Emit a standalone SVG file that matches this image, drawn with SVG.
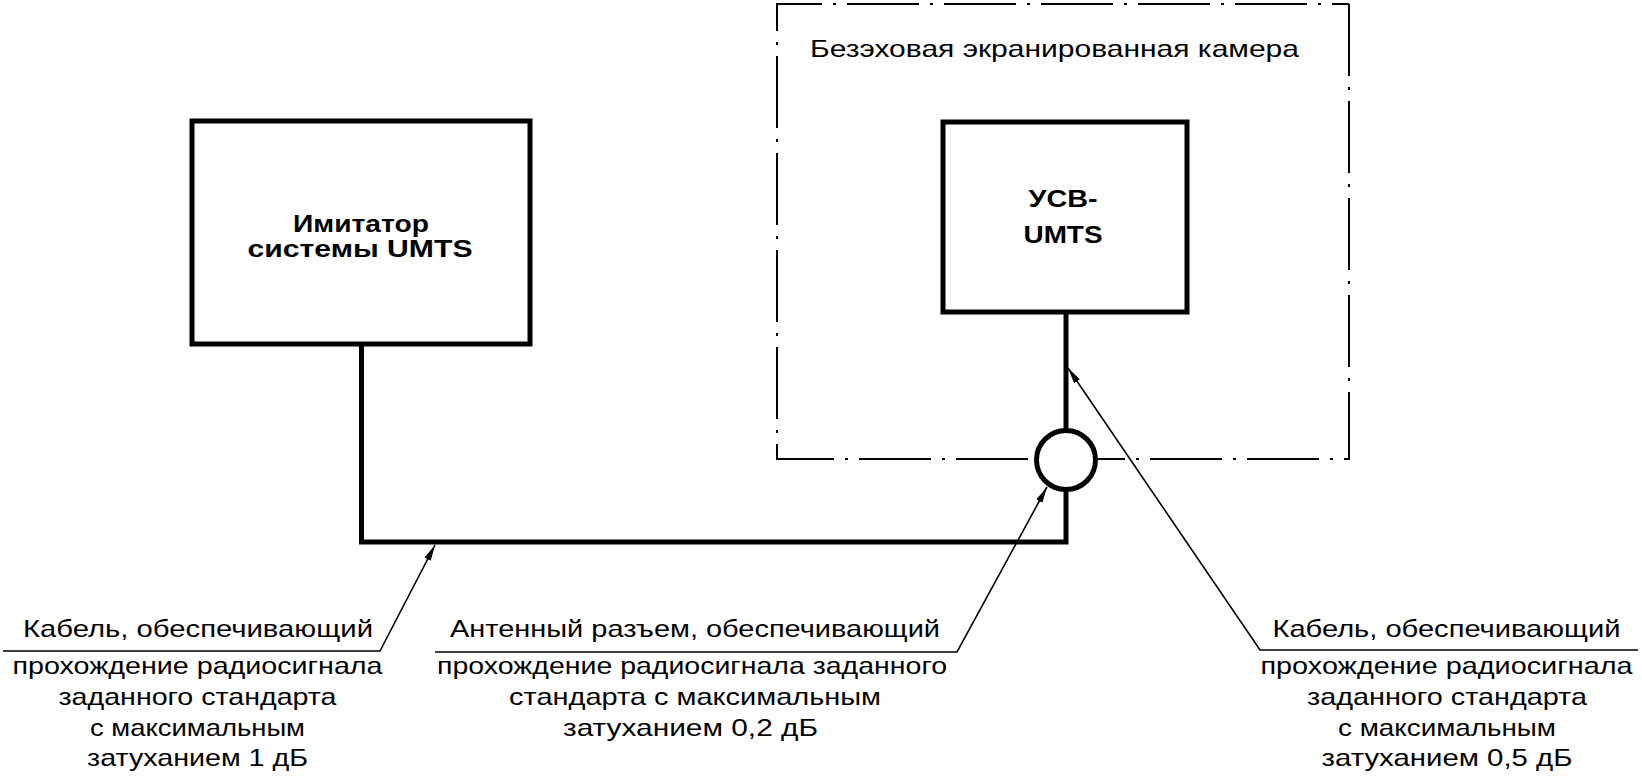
<svg xmlns="http://www.w3.org/2000/svg" width="1642" height="777" viewBox="0 0 1642 777">
<style>
.t{font-family:"Liberation Sans",Arial,sans-serif;font-size:24px;fill:#000;text-anchor:middle}
.b{font-weight:bold}
.thick{fill:none;stroke:#000;stroke-width:5}
.thin{fill:none;stroke:#000;stroke-width:1.6}
.cam{fill:none;stroke:#000;stroke-width:2;stroke-dasharray:72 11 3 11}
</style>
<defs>
<marker id="arr" viewBox="0 0 16 7" refX="16" refY="3.5" markerWidth="16" markerHeight="7" markerUnits="userSpaceOnUse" orient="auto">
<path d="M0,0 L16,3.5 L0,7 Z" fill="#000"/>
</marker>
</defs>
<rect width="1642" height="777" fill="#fff"/>

<g id="camera">
<path class="cam" d="M1349,4 V459 H777 V4 H1349"/>
<text class="t" x="1054.5" y="57" textLength="489" lengthAdjust="spacingAndGlyphs">Безэховая экранированная камера</text>
</g>

<g id="connectors">
<path class="thick" d="M361.5,344 V542 H1066 V490"/>
<path class="thick" d="M1066,312 V430"/>
</g>

<g id="simulator">
<rect class="thick" x="192" y="121" width="338" height="223"/>
<text class="t b" x="361" y="232" textLength="136" lengthAdjust="spacingAndGlyphs">Имитатор</text>
<text class="t b" x="360" y="257" textLength="225" lengthAdjust="spacingAndGlyphs">системы UMTS</text>
</g>

<g id="ue">
<rect class="thick" x="943" y="122" width="244" height="190"/>
<text class="t b" x="1063" y="207" textLength="69" lengthAdjust="spacingAndGlyphs">УСВ-</text>
<text class="t b" x="1063" y="243" textLength="79" lengthAdjust="spacingAndGlyphs">UMTS</text>
</g>

<g id="antenna-connector">
<circle cx="1066" cy="460" r="29.5" fill="#fff" stroke="#000" stroke-width="5"/>
</g>

<g id="label-cable-1">
<path class="thin" d="M3,651 H380 L435,545" marker-end="url(#arr)"/>
<text class="t" x="198" y="637" textLength="350" lengthAdjust="spacingAndGlyphs">Кабель, обеспечивающий</text>
<text class="t" x="197.5" y="674" textLength="370" lengthAdjust="spacingAndGlyphs">прохождение радиосигнала</text>
<text class="t" x="197.5" y="705" textLength="278" lengthAdjust="spacingAndGlyphs">заданного стандарта</text>
<text class="t" x="197.5" y="735.5" textLength="215" lengthAdjust="spacingAndGlyphs">с максимальным</text>
<text class="t" x="197.5" y="766" textLength="221" lengthAdjust="spacingAndGlyphs">затуханием 1 дБ</text>
</g>

<g id="label-connector">
<path class="thin" d="M435,652 H957 L1047,487" marker-end="url(#arr)"/>
<text class="t" x="695" y="637" textLength="490" lengthAdjust="spacingAndGlyphs">Антенный разъем, обеспечивающий</text>
<text class="t" x="692" y="674" textLength="510" lengthAdjust="spacingAndGlyphs">прохождение радиосигнала заданного</text>
<text class="t" x="695" y="705" textLength="372" lengthAdjust="spacingAndGlyphs">стандарта с максимальным</text>
<text class="t" x="690.5" y="736" textLength="255" lengthAdjust="spacingAndGlyphs">затуханием 0,2 дБ</text>
</g>

<g id="label-cable-2">
<path class="thin" d="M1638,650 H1260 L1068,368" marker-end="url(#arr)"/>
<text class="t" x="1446.5" y="637" textLength="348" lengthAdjust="spacingAndGlyphs">Кабель, обеспечивающий</text>
<text class="t" x="1446.5" y="674" textLength="372" lengthAdjust="spacingAndGlyphs">прохождение радиосигнала</text>
<text class="t" x="1447" y="705" textLength="280" lengthAdjust="spacingAndGlyphs">заданного стандарта</text>
<text class="t" x="1447" y="735.5" textLength="218" lengthAdjust="spacingAndGlyphs">с максимальным</text>
<text class="t" x="1447" y="766" textLength="251" lengthAdjust="spacingAndGlyphs">затуханием 0,5 дБ</text>
</g>
</svg>
